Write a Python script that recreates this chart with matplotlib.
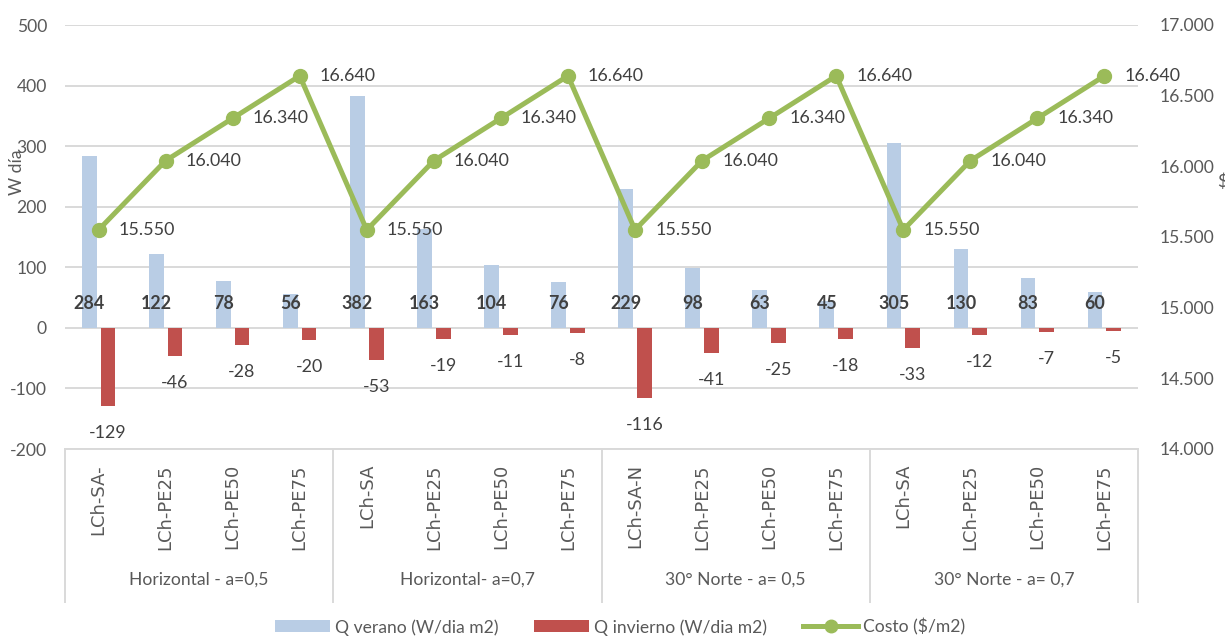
import matplotlib
matplotlib.use("Agg")
import matplotlib.pyplot as plt
import matplotlib.transforms as mtransforms
from matplotlib.lines import Line2D
from matplotlib.patches import Patch

categories = ["LCh-SA-", "LCh-PE25", "LCh-PE50", "LCh-PE75",
              "LCh-SA", "LCh-PE25", "LCh-PE50", "LCh-PE75",
              "LCh-SA-N", "LCh-PE25", "LCh-PE50", "LCh-PE75",
              "LCh-SA", "LCh-PE25", "LCh-PE50", "LCh-PE75"]
groups = ["Horizontal - a=0,5", "Horizontal- a=0,7", "30° Norte - a= 0,5", "30° Norte - a= 0,7"]
q_verano = [284, 122, 78, 56, 382, 163, 104, 76, 229, 98, 63, 45, 305, 130, 83, 60]
q_invierno = [-129, -46, -28, -20, -53, -19, -11, -8, -116, -41, -25, -18, -33, -12, -7, -5]
costo = [15550, 16040, 16340, 16640, 15550, 16040, 16340, 16640,
         15550, 16040, 16340, 16640, 15550, 16040, 16340, 16640]
left_ticks = [-200, -100, 0, 100, 200, 300, 400, 500]
right_ticks = [14000, 14500, 15000, 15500, 16000, 16500, 17000]

BLUE = "#B9CDE5"
RED = "#C0504D"
GREEN = "#9BBB59"
GRID = "#D9D9D9"
TICK = "#595959"
LABEL = "#404040"
FONT = ["Lato", "DejaVu Sans"]
FS = 12.6
FSL = 12.9

plt.rcParams["font.family"] = FONT

W, H = 1225, 639
PX = 72 / 100  # points per pixel
fig = plt.figure(figsize=(W / 100, H / 100), dpi=100)
L, R, T, B = 65, 1138, 25, 449
ax = fig.add_axes([L / W, 1 - B / H, (R - L) / W, (B - T) / H])
ax2 = ax.twinx()

x = list(range(len(categories)))
bw = 0.22
off = 0.14
ax.bar([i - off for i in x], q_verano, width=bw, color=BLUE, zorder=2)
ax.bar([i + off for i in x], q_invierno, width=bw, color=RED, zorder=2)

ax.set_xlim(-0.5, len(categories) - 0.5)
ax.set_ylim(-200, 500)
ax.set_yticks(left_ticks)
ax.set_yticklabels([str(v) for v in left_ticks])
ax.yaxis.grid(True, color=GRID, lw=1.4, zorder=0)
ax.set_axisbelow(True)
for s in ["top", "right", "left"]:
    ax.spines[s].set_visible(False)
ax.spines["bottom"].set_color(GRID)
ax.spines["bottom"].set_linewidth(1.4)
ax.tick_params(axis="y", length=0, pad=18 * PX, labelsize=FS, labelcolor=TICK)
ax.set_xticks(x)
ax.set_xticklabels(categories, rotation=90, family="DejaVu Sans", fontsize=13, color=TICK)
ax.tick_params(axis="x", length=0, pad=15 * PX)

# data labels
for i in x:
    ax.annotate(str(q_verano[i]), (i - off, 0), xytext=(0, 24), textcoords="offset pixels",
                ha="center", va="center", fontsize=FSL, fontweight="bold", color=LABEL, zorder=5)
    ax.annotate(str(q_invierno[i]), (i + off, q_invierno[i]), xytext=(0, -27), textcoords="offset pixels",
                ha="center", va="center", fontsize=FSL, color=LABEL, zorder=5)

# group separators and labels
trans = mtransforms.blended_transform_factory(ax.transData, ax.transAxes)
sep_bottom = -(602 - B) / (B - T)
for k in range(len(groups) + 1):
    xs = k * 4 - 0.5
    ax.add_line(Line2D([xs, xs], [0, sep_bottom], transform=trans, color=GRID, lw=1.4, clip_on=False))
for k, g in enumerate(groups):
    ax.text(k * 4 + 1.5, -(580 - B) / (B - T), g, transform=trans, ha="center", va="center",
            fontsize=FS, color=TICK)

# line on secondary axis
ax2.plot(x, costo, color=GREEN, lw=3.6, marker="o", markersize=10, zorder=4)
ax2.set_ylim(14000, 17000)
ax2.set_yticks(right_ticks)
ax2.set_yticklabels([f"{v:,}".replace(",", ".") for v in right_ticks])
ax2.tick_params(axis="y", length=0, pad=22 * PX, labelsize=FS, labelcolor=TICK)
for s in ["top", "right", "left", "bottom"]:
    ax2.spines[s].set_visible(False)
for i in x:
    ax2.annotate(f"{costo[i]:,}".replace(",", "."), (i, costo[i]), xytext=(20, 0),
                 textcoords="offset pixels", ha="left", va="center", fontsize=FSL, color=LABEL)

fig.text(17 / W, 1 - 172 / H, "W día", rotation=90, ha="center", va="center", fontsize=FS, color=TICK)
fig.text(1217 / W, 1 - 182 / H, "$", ha="left", va="center", fontsize=FS, color=TICK)

handles = [Patch(facecolor=BLUE, edgecolor="none"),
           Patch(facecolor=RED, edgecolor="none"),
           Line2D([], [], color=GREEN, lw=3.6, marker="o", markersize=9)]
fs_px = FS / PX
fig.legend(handles, ["Q verano (W/dia m2)", "Q invierno (W/dia m2)", "Costo ($/m2)"],
           loc="center", bbox_to_anchor=(620 / W, 1 - 627 / H), ncol=3, frameon=False,
           fontsize=FS, labelcolor=TICK, handlelength=55 / fs_px, handleheight=12 / fs_px,
           columnspacing=36 / fs_px, handletextpad=5 / fs_px)

fig.savefig("out.png", dpi=100)
